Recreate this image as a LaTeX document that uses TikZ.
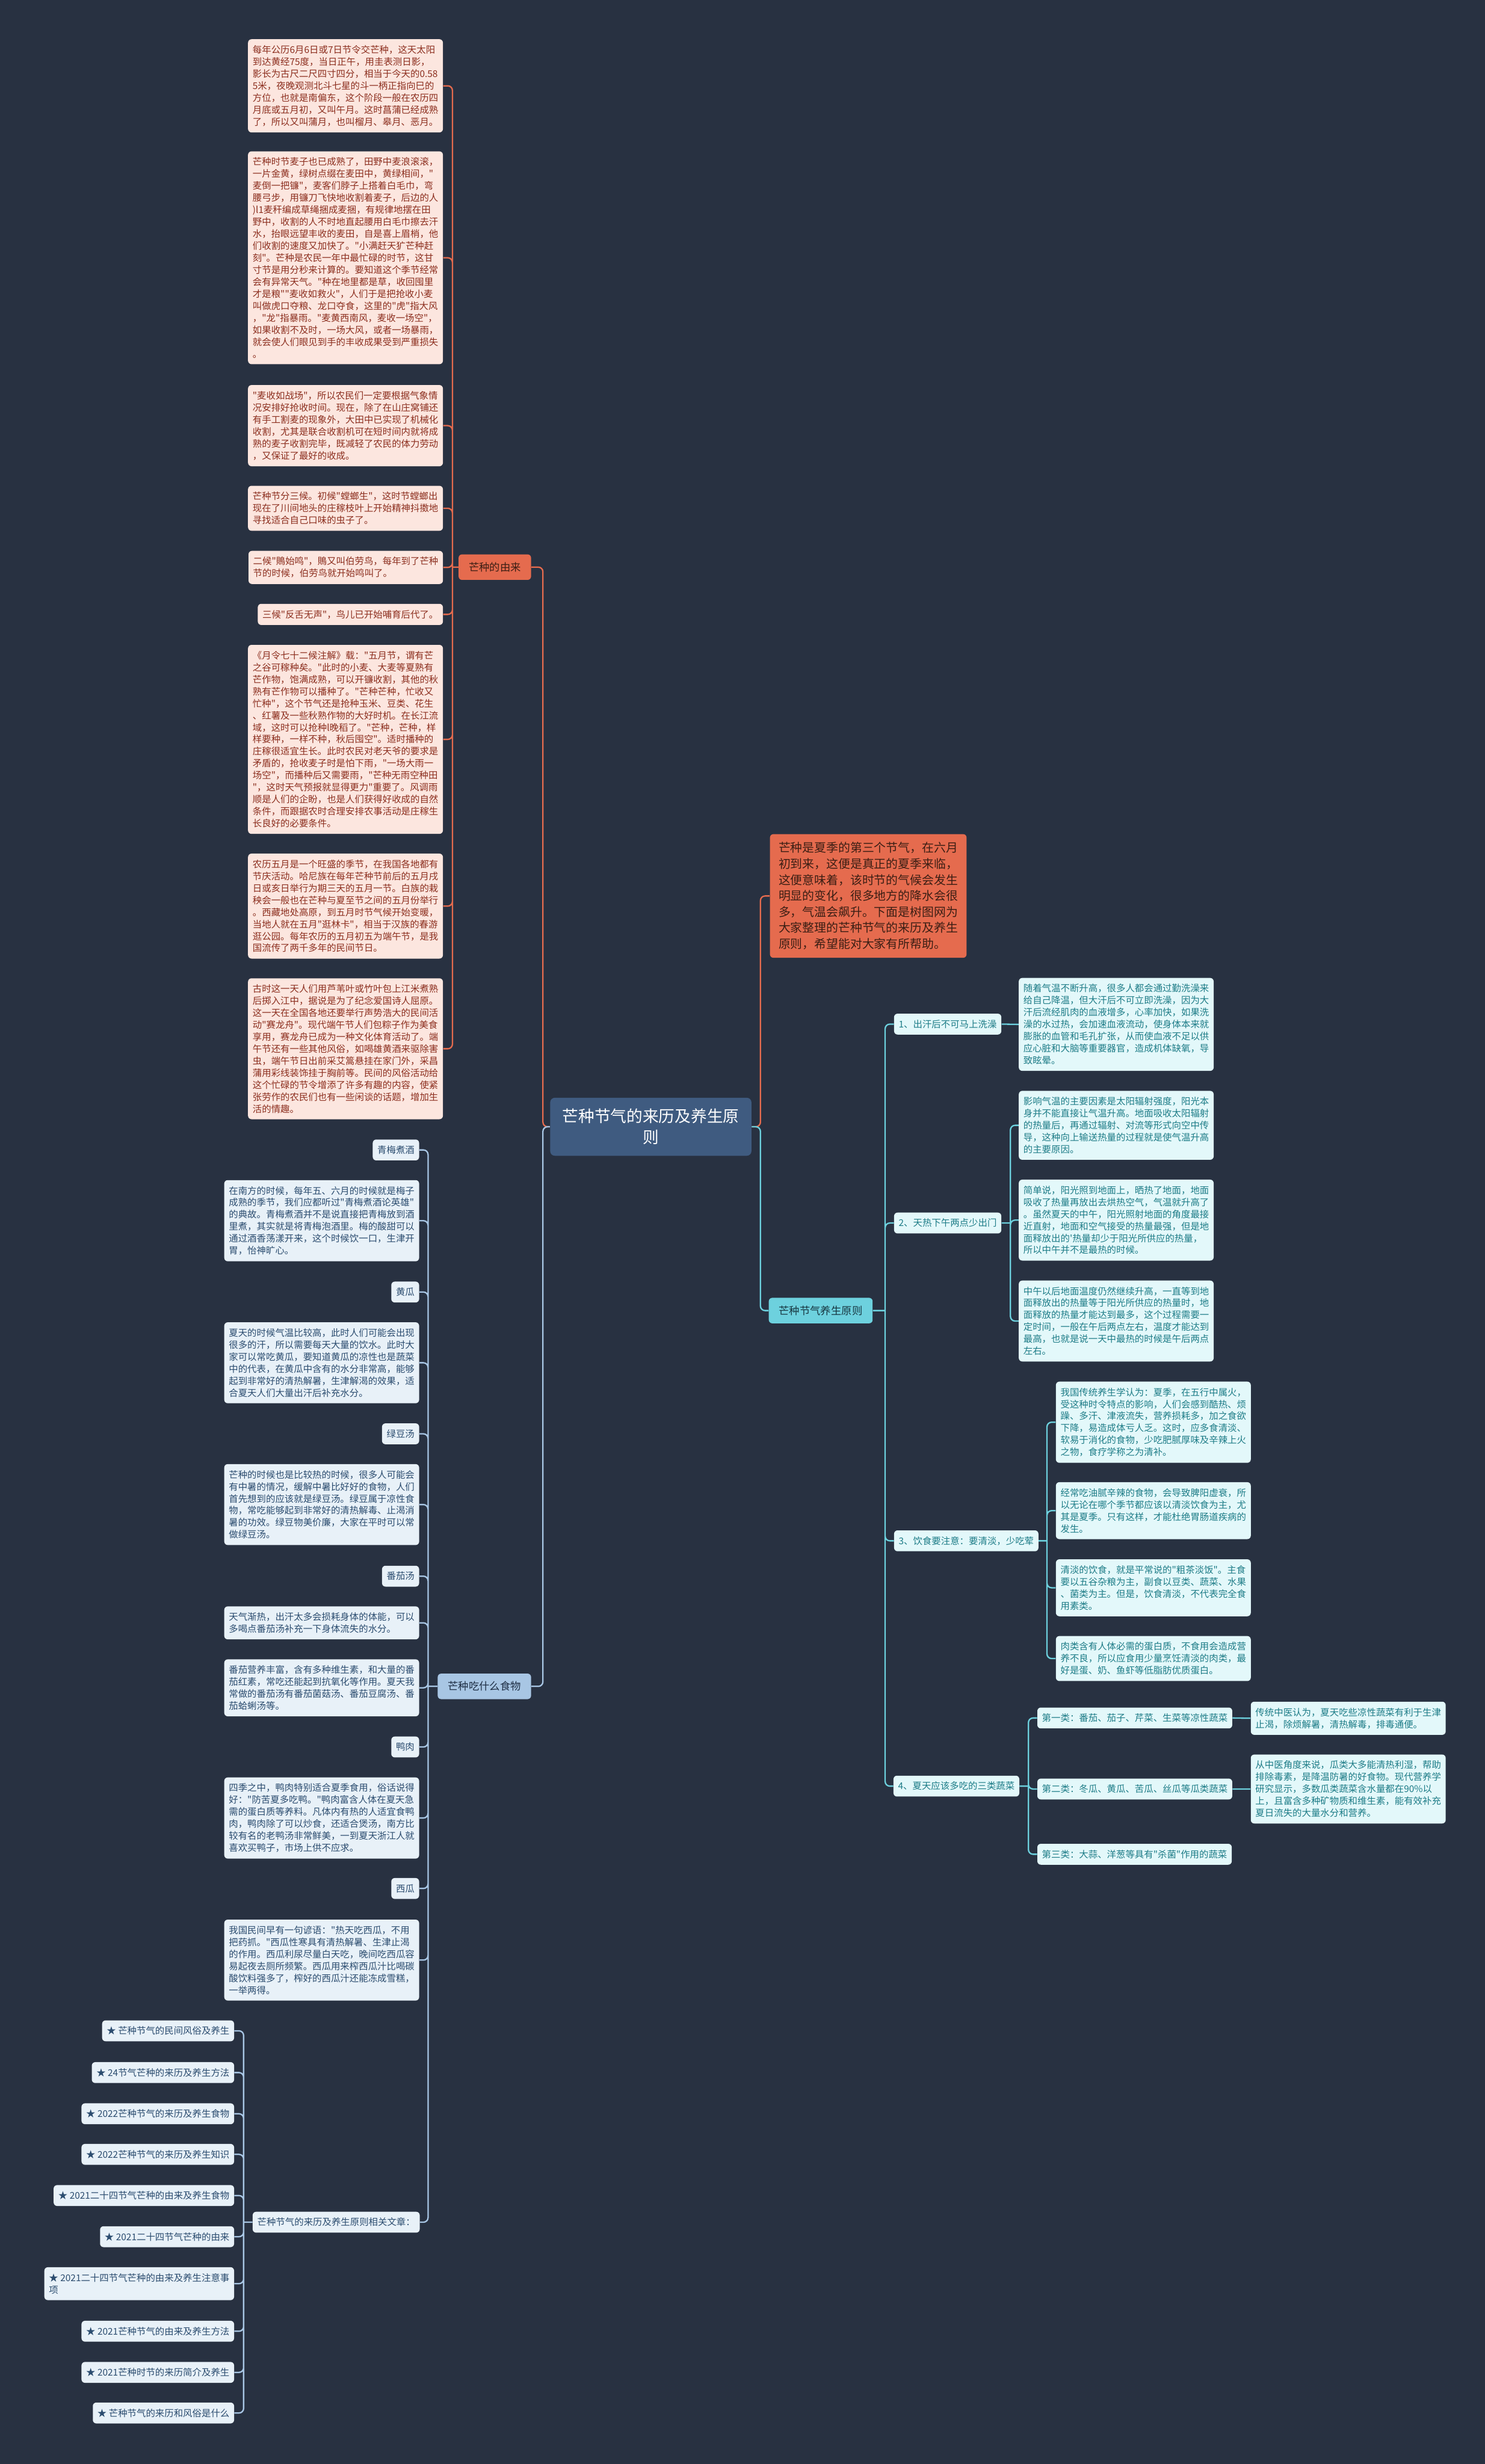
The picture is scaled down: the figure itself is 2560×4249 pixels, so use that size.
\documentclass[tikz,border=0pt]{standalone}
\usepackage{fontspec}
\newfontfamily\yahei{Noto Sans CJK SC}
\usepackage{tikz}
\usetikzlibrary{arrows}

\definecolor{bgnavy}{HTML}{283141}
\definecolor{rootblue}{HTML}{3F5B80}
\definecolor{orangeln}{HTML}{E56B4E}
\definecolor{orangefg}{HTML}{3B1E14}
\definecolor{pinkbg}{HTML}{FCE6DF}
\definecolor{pinkfg}{HTML}{8C2E1E}
\definecolor{cyanln}{HTML}{6DD1DE}
\definecolor{cyanfg}{HTML}{173640}
\definecolor{carebg}{HTML}{E3F8FA}
\definecolor{carefg}{HTML}{1D7C87}
\definecolor{foodln}{HTML}{A8C6E4}
\definecolor{foodfg}{HTML}{1E2E44}
\definecolor{foodbg}{HTML}{E8F1F8}
\definecolor{foodtx}{HTML}{2B4C6F}

\begin{document}
\begin{tikzpicture}[x=0.5pt,y=-0.5pt]
  \tikzstyle{notebox}=[rectangle,rounded corners=3pt,align=left,inner xsep=4pt,inner ysep=5.3pt,font=\yahei\fontsize{8}{10.35}\selectfont]
  \tikzstyle{tagbox}=[rectangle,rounded corners=3pt,inner xsep=4pt,inner ysep=0pt,minimum height=18pt,font=\yahei\fontsize{8}{10.35}\selectfont]
  \tikzstyle{branchbox}=[rectangle,rounded corners=3pt,inner xsep=8.75pt,inner ysep=0pt,minimum height=22pt,font=\yahei\fontsize{9}{11}\selectfont]
  \tikzstyle{origin}=[notebox,fill=pinkbg,text=pinkfg,anchor=east]
  \tikzstyle{foodnote}=[notebox,fill=foodbg,text=foodtx,anchor=east]
  \tikzstyle{foodtag}=[tagbox,fill=foodbg,text=foodtx,anchor=east]
  \tikzstyle{carenote}=[notebox,fill=carebg,text=carefg,anchor=west]
  \tikzstyle{caretag}=[tagbox,fill=carebg,text=carefg,anchor=west]
  \tikzstyle{wire}=[line width=1.2pt,rounded corners=4pt]

  \fill[bgnavy] (0,0) rectangle (2560,4249);
  \useasboundingbox (0,0) rectangle (2560,4249);

  \node[rectangle,rounded corners=4pt,fill=rootblue,text=white,align=center,minimum width=173.5pt,minimum height=50pt,font=\yahei\fontsize{13.85}{18}\selectfont] (root) at (1122,1943) {芒种节气的来历及养生原\\则};

  % right side
  \node[rectangle,rounded corners=3pt,fill=orangeln,text=orangefg,align=left,inner xsep=7.5pt,inner ysep=7pt,anchor=west,font=\yahei\fontsize{10.3}{13.8}\selectfont] (intro) at (1327,1545) {芒种是夏季的第三个节气，在六月\\初到来，这便是真正的夏季来临，\\这便意味着，该时节的气候会发生\\明显的变化，很多地方的降水会很\\多，气温会飙升。下面是树图网为\\大家整理的芒种节气的来历及养生\\原则，希望能对大家有所帮助。};

  \node[branchbox,fill=cyanln,text=cyanfg,anchor=west] (care) at (1325,2260) {芒种节气养生原则};

  \node[caretag] (c1) at (1541,1766) {1、出汗后不可马上洗澡};
  \node[caretag] (c2) at (1541,2109) {2、天热下午两点少出门};
  \node[caretag] (c3) at (1541,2657) {3、饮食要注意：要清淡，少吃荤};
  \node[caretag] (c4) at (1540,3080) {4、夏天应该多吃的三类蔬菜};

  \node[carenote] (c1a) at (1756,1766.5) {随着气温不断升高，很多人都会通过勤洗澡来\\给自己降温，但大汗后不可立即洗澡，因为大\\汗后流经肌肉的血液增多，心率加快，如果洗\\澡的水过热，会加速血液流动，使身体本来就\\膨胀的血管和毛孔扩张，从而使血液不足以供\\应心脏和大脑等重要器官，造成机体缺氧，导\\致眩晕。};

  \node[carenote] (c2a) at (1756,1940.5) {影响气温的主要因素是太阳辐射强度，阳光本\\身并不能直接让气温升高。地面吸收太阳辐射\\的热量后，再通过辐射、对流等形式向空中传\\导，这种向上输送热量的过程就是使气温升高\\的主要原因。};
  \node[carenote] (c2b) at (1756,2104) {简单说，阳光照到地面上，晒热了地面，地面\\吸收了热量再放出去烘热空气，气温就升高了\\。虽然夏天的中午，阳光照射地面的角度最接\\近直射，地面和空气接受的热量最强，但是地\\面释放出的'热量却少于阳光所供应的热量，\\所以中午并不是最热的时候。};
  \node[carenote] (c2c) at (1756,2278) {中午以后地面温度仍然继续升高，一直等到地\\面释放出的热量等于阳光所供应的热量时，地\\面释放的热量才能达到最多，这个过程需要一\\定时间，一般在午后两点左右，温度才能达到\\最高，也就是说一天中最热的时候是午后两点\\左右。};

  \node[carenote] (c3a) at (1820,2452.5) {我国传统养生学认为：夏季，在五行中属火，\\受这种时令特点的影响，人们会感到酷热、烦\\躁、多汗、津液流失，营养损耗多，加之食欲\\下降，易造成体亏人乏。这时，应多食清淡、\\软易于消化的食物，少吃肥腻厚味及辛辣上火\\之物，食疗学称之为清补。};
  \node[carenote] (c3b) at (1820,2605) {经常吃油腻辛辣的食物，会导致脾阳虚衰，所\\以无论在哪个季节都应该以清淡饮食为主，尤\\其是夏季。只有这样，才能杜绝胃肠道疾病的\\发生。};
  \node[carenote] (c3c) at (1820,2738) {清淡的饮食，就是平常说的"粗茶淡饭"。主食\\要以五谷杂粮为主，副食以豆类、蔬菜、水果\\、菌类为主。但是，饮食清淡，不代表完全食\\用素类。};
  \node[carenote] (c3d) at (1820,2860) {肉类含有人体必需的蛋白质，不食用会造成营\\养不良，所以应食用少量烹饪清淡的肉类，最\\好是蛋、奶、鱼虾等低脂肪优质蛋白。};

  \node[caretag] (c4a) at (1788,2962.5) {第一类：番茄、茄子、芹菜、生菜等凉性蔬菜};
  \node[caretag] (c4b) at (1788,3085) {第二类：冬瓜、黄瓜、苦瓜、丝瓜等瓜类蔬菜};
  \node[caretag] (c4c) at (1788,3197.5) {第三类：大蒜、洋葱等具有"杀菌"作用的蔬菜};
  \node[carenote] (c4a1) at (2156,2963) {传统中医认为，夏天吃些凉性蔬菜有利于生津\\止渴，除烦解暑，清热解毒，排毒通便。};
  \node[carenote] (c4b1) at (2156,3085) {从中医角度来说，瓜类大多能清热利湿，帮助\\排除毒素，是降温防暑的好食物。现代营养学\\研究显示，多数瓜类蔬菜含水量都在90\%以\\上，且富含多种矿物质和维生素，能有效补充\\夏日流失的大量水分和营养。};

  % left side, origin
  \node[branchbox,fill=orangeln,text=orangefg,anchor=east] (story) at (916,978) {芒种的由来};

  \node[origin] (o1) at (764,148) {每年公历6月6日或7日节令交芒种，这天太阳\\到达黄经75度，当日正午，用圭表测日影，\\影长为古尺二尺四寸四分，相当于今天的0.58\\5米，夜晚观测北斗七星的斗一柄正指向巳的\\方位，也就是南偏东，这个阶段一般在农历四\\月底或五月初，又叫午月。这时菖蒲已经成熟\\了，所以又叫蒲月，也叫榴月、皋月、恶月。};
  \node[origin] (o2) at (764,444.5) {芒种时节麦子也已成熟了，田野中麦浪滚滚，\\一片金黄，绿树点缀在麦田中，黄绿相间，"\\麦倒一把镰"，麦客们脖子上搭着白毛巾，弯\\腰弓步，用镰刀飞快地收割着麦子，后边的人\\)l1麦秆编成草绳捆成麦捆，有规律地摆在田\\野中，收割的人不时地直起腰用白毛巾擦去汗\\水，抬眼远望丰收的麦田，自是喜上眉梢，他\\们收割的速度又加快了。"小满赶天犷芒种赶\\刻"。芒种是农民一年中最忙碌的时节，这甘\\寸节是用分秒来计算的。要知道这个季节经常\\会有异常天气。"种在地里都是草，收回囤里\\才是粮""麦收如救火"，人们于是把抢收小麦\\叫做虎口夺粮、龙口夺食，这里的"虎"指大风\\，"龙"指暴雨。"麦黄西南风，麦收一场空"，\\如果收割不及时，一场大风，或者一场暴雨，\\就会使人们眼见到手的丰收成果受到严重损失\\。};
  \node[origin] (o3) at (764,734) {"麦收如战场"，所以农民们一定要根据气象情\\况安排好抢收时间。现在，除了在山庄窝铺还\\有手工割麦的现象外，大田中已实现了机械化\\收割，尤其是联合收割机可在短时间内就将成\\熟的麦子收割完毕，既减轻了农民的体力劳动\\，又保证了最好的收成。};
  \node[origin] (o4) at (764,876.5) {芒种节分三候。初候"螳螂生"，这时节螳螂出\\现在了川间地头的庄稼枝叶上开始精神抖擞地\\寻找适合自己口味的虫子了。};
  \node[origin] (o5) at (764,978.5) {二候"鵙始鸣"，鵙又叫伯劳鸟，每年到了芒种\\节的时候，伯劳鸟就开始鸣叫了。};
  \node[origin] (o6) at (764,1059.5) {三候"反舌无声"，鸟儿已开始哺育后代了。};
  \node[origin] (o7) at (764,1275) {《月令七十二候注解》载："五月节，谓有芒\\之谷可稼种矣。"此时的小麦、大麦等夏熟有\\芒作物，饱满成熟，可以开镰收割，其他的秋\\熟有芒作物可以播种了。"芒种芒种，忙收又\\忙种"，这个节气还是抢种玉米、豆类、花生\\、红薯及一些秋熟作物的大好时机。在长江流\\域，这时可以抢种l晚稻了。"芒种，芒种，样\\样要种，一样不种，秋后囤空"。适时播种的\\庄稼很适宜生长。此时农民对老天爷的要求是\\矛盾的，抢收麦子时是怕下雨，"一场大雨一\\场空"，而播种后又需要雨，"芒种无雨空种田\\"，这时天气预报就显得更力"重要了。风调雨\\顺是人们的企盼，也是人们获得好收成的自然\\条件，而跟据农时合理安排农事活动是庄稼生\\长良好的必要条件。};
  \node[origin] (o8) at (764,1562.5) {农历五月是一个旺盛的季节，在我国各地都有\\节庆活动。哈尼族在每年芒种节前后的五月戌\\日或亥日举行为期三天的五月一节。白族的栽\\秧会一般也在芒种与夏至节之间的五月份举行\\。西藏地处高原，到五月时节气候开始变暖，\\当地人就在五月"逛林卡"，相当于汉族的春游\\逛公园。每年农历的五月初五为端午节，是我\\国流传了两千多年的民间节日。};
  \node[origin] (o9) at (764,1808.5) {古时这一天人们用芦苇叶或竹叶包上江米煮熟\\后掷入江中，据说是为了纪念爱国诗人屈原。\\这一天在全国各地还要举行声势浩大的民间活\\动"赛龙舟"。现代端午节人们包粽子作为美食\\享用，赛龙舟已成为一种文化体育活动了。端\\午节还有一些其他风俗，如喝雄黄酒来驱除害\\虫，端午节日出前采艾篙悬挂在家门外，采昌\\蒲用彩线装饰挂于胸前等。民间的风俗活动给\\这个忙碌的节令增添了许多有趣的内容，使紧\\张劳作的农民们也有一些闲谈的话题，增加生\\活的情趣。};

  % left side, food
  \node[branchbox,fill=foodln,text=foodfg,anchor=east] (food) at (916,2908) {芒种吃什么食物};

  \node[foodtag] (f1) at (723,1983) {青梅煮酒};
  \node[foodnote] (f1a) at (723,2105) {在南方的时候，每年五、六月的时候就是梅子\\成熟的季节，我们应都听过"青梅煮酒论英雄"\\的典故。青梅煮酒并不是说直接把青梅放到酒\\里煮，其实就是将青梅泡酒里。梅的酸甜可以\\通过酒香荡漾开来，这个时候饮一口，生津开\\胃，怡神旷心。};
  \node[foodtag] (f2) at (723,2228) {黄瓜};
  \node[foodnote] (f2a) at (723,2350) {夏天的时候气温比较高，此时人们可能会出现\\很多的汗，所以需要每天大量的饮水。此时大\\家可以常吃黄瓜，要知道黄瓜的凉性也是蔬菜\\中的代表，在黄瓜中含有的水分非常高，能够\\起到非常好的清热解暑，生津解渴的效果，适\\合夏天人们大量出汗后补充水分。};
  \node[foodtag] (f3) at (723,2472.5) {绿豆汤};
  \node[foodnote] (f3a) at (723,2594.5) {芒种的时候也是比较热的时候，很多人可能会\\有中暑的情况，缓解中暑比好好的食物，人们\\首先想到的应该就是绿豆汤。绿豆属于凉性食\\物，常吃能够起到非常好的清热解毒、止渴消\\暑的功效。绿豆物美价廉，大家在平时可以常\\做绿豆汤。};
  \node[foodtag] (f4) at (723,2718) {番茄汤};
  \node[foodnote] (f4a) at (723,2798.5) {天气渐热，出汗太多会损耗身体的体能，可以\\多喝点番茄汤补充一下身体流失的水分。};
  \node[foodnote] (f4b) at (723,2910.5) {番茄营养丰富，含有多种维生素，和大量的番\\茄红素，常吃还能起到抗氧化等作用。夏天我\\常做的番茄汤有番茄菌菇汤、番茄豆腐汤、番\\茄蛤蜊汤等。};
  \node[foodtag] (f5) at (723,3012.5) {鸭肉};
  \node[foodnote] (f5a) at (723,3135) {四季之中，鸭肉特别适合夏季食用，俗话说得\\好："防苦夏多吃鸭。"鸭肉富含人体在夏天急\\需的蛋白质等养料。凡体内有热的人适宜食鸭\\肉，鸭肉除了可以炒食，还适合煲汤，南方比\\较有名的老鸭汤非常鲜美，一到夏天浙江人就\\喜欢买鸭子，市场上供不应求。};
  \node[foodtag] (f6) at (723,3256.5) {西瓜};
  \node[foodnote] (f6a) at (723,3380) {我国民间早有一句谚语："热天吃西瓜，不用\\把药抓。"西瓜性寒具有清热解暑、生津止渴\\的作用。西瓜利尿尽量白天吃，晚间吃西瓜容\\易起夜去厕所频繁。西瓜用来榨西瓜汁比喝碳\\酸饮料强多了，榨好的西瓜汁还能冻成雪糕，\\一举两得。};

  \node[foodtag] (more) at (724,3832) {芒种节气的来历及养生原则相关文章：};
  \node[foodtag] (m1) at (404,3502) {★ 芒种节气的民间风俗及养生};
  \node[foodtag] (m2) at (404,3574) {★ 24节气芒种的来历及养生方法};
  \node[foodtag] (m3) at (404,3645) {★ 2022芒种节气的来历及养生食物};
  \node[foodtag] (m4) at (404,3715) {★ 2022芒种节气的来历及养生知识};
  \node[foodtag] (m5) at (404,3786) {★ 2021二十四节气芒种的由来及养生食物};
  \node[foodtag] (m6) at (404,3857) {★ 2021二十四节气芒种的由来};
  \node[foodnote] (m7) at (404,3938) {★ 2021二十四节气芒种的由来及养生注意事\\项};
  \node[foodtag] (m8) at (404,4020) {★ 2021芒种节气的由来及养生方法};
  \node[foodtag] (m9) at (404,4091) {★ 2021芒种时节的来历简介及养生};
  \node[foodtag] (m10) at (404,4161) {★ 芒种节气的来历和风俗是什么};

  % junctions
  \coordinate (rootR) at (1311,1943);
  \coordinate (rootL) at (936,1943);
  \coordinate (careJ) at (1526,2260);
  \coordinate (c2J) at (1742,2109);
  \coordinate (c3J) at (1805,2657);
  \coordinate (c4J) at (1773,3080);
  \coordinate (storyJ) at (780,978);
  \coordinate (foodJ) at (738,2908);
  \coordinate (moreJ) at (420,3832);

  \path[wire,draw=orangeln] (root.east) -- (rootR) |- (intro.west)
        (root.west) -- (rootL) |- (story.east)
        (story.west) -- (storyJ)
        (storyJ) |- (o1.east)  (storyJ) |- (o2.east)  (storyJ) |- (o3.east)
        (storyJ) |- (o4.east)  (storyJ) |- (o5.east)  (storyJ) |- (o6.east)
        (storyJ) |- (o7.east)  (storyJ) |- (o8.east)  (storyJ) |- (o9.east);

  \path[wire,draw=cyanln] (root.east) -- (rootR) |- (care.west)
        (care.east) -- (careJ)
        (careJ) |- (c1.west)  (careJ) |- (c2.west)
        (careJ) |- (c3.west)  (careJ) |- (c4.west)
        (c1.east) -- (c1a.west)
        (c2.east) -- (c2J)
        (c2J) |- (c2a.west)  (c2J) |- (c2b.west)  (c2J) |- (c2c.west)
        (c3.east) -- (c3J)
        (c3J) |- (c3a.west)  (c3J) |- (c3b.west)  (c3J) |- (c3c.west)  (c3J) |- (c3d.west)
        (c4.east) -- (c4J)
        (c4J) |- (c4a.west)  (c4J) |- (c4b.west)  (c4J) |- (c4c.west)
        (c4a.east) -- (c4a1.west)
        (c4b.east) -- (c4b1.west);

  \path[wire,draw=foodln] (root.west) -- (rootL) |- (food.east)
        (food.west) -- (foodJ)
        (foodJ) |- (f1.east)  (foodJ) |- (f1a.east)  (foodJ) |- (f2.east)
        (foodJ) |- (f2a.east)  (foodJ) |- (f3.east)  (foodJ) |- (f3a.east)
        (foodJ) |- (f4.east)  (foodJ) |- (f4a.east)  (foodJ) |- (f4b.east)
        (foodJ) |- (f5.east)  (foodJ) |- (f5a.east)  (foodJ) |- (f6.east)
        (foodJ) |- (f6a.east)  (foodJ) |- (more.east)
        (more.west) -- (moreJ)
        (moreJ) |- (m1.east)  (moreJ) |- (m2.east)  (moreJ) |- (m3.east)
        (moreJ) |- (m4.east)  (moreJ) |- (m5.east)  (moreJ) |- (m6.east)
        (moreJ) |- (m7.east)  (moreJ) |- (m8.east)  (moreJ) |- (m9.east)
        (moreJ) |- (m10.east);

\end{tikzpicture}
\end{document}
